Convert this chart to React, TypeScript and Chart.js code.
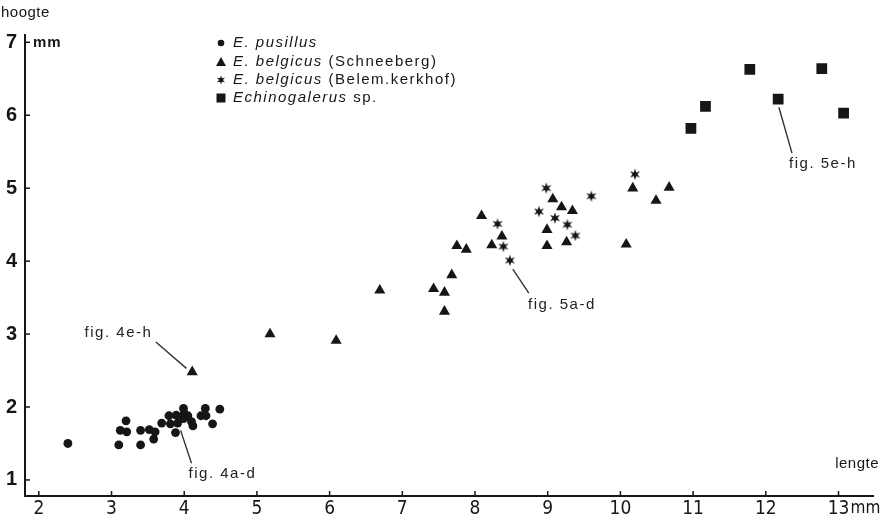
import React, { useEffect, useRef } from 'react';
import { Chart, registerables } from 'chart.js';

Chart.register(...registerables);

// ---- data (lengte / hoogte in mm) ----
const pusillusX = [2.4, 3.1, 3.4, 3.2, 3.12, 3.21, 3.4, 3.52, 3.6, 3.58, 3.69, 3.79, 3.81, 3.89, 3.91, 3.88, 3.99, 4.0, 3.99, 4.05, 4.1, 4.12, 4.23, 4.3, 4.29, 4.39, 4.49];
const pusillusY = [1.5, 1.48, 1.48, 1.81, 1.68, 1.66, 1.68, 1.69, 1.66, 1.56, 1.78, 1.88, 1.77, 1.89, 1.78, 1.65, 1.98, 1.91, 1.84, 1.88, 1.8, 1.74, 1.88, 1.88, 1.98, 1.77, 1.97];

const schneebergX = [4.11, 5.18, 6.09, 6.69, 7.43, 7.58, 7.58, 7.68, 7.75, 7.88, 8.09, 8.23, 8.37, 9.07, 9.19, 9.34, 8.99, 8.99, 9.26, 10.08, 10.17, 10.49, 10.67];
const schneebergY = [2.48, 3.0, 2.91, 3.6, 3.62, 3.57, 3.31, 3.81, 4.21, 4.16, 4.62, 4.22, 4.34, 4.85, 4.74, 4.69, 4.43, 4.21, 4.26, 4.23, 5.0, 4.83, 5.01];

const kerkhofX = [8.31, 8.39, 8.48, 8.98, 8.88, 9.1, 9.27, 9.38, 9.6, 10.2];
const kerkhofY = [4.51, 4.2, 4.01, 5.0, 4.68, 4.59, 4.5, 4.35, 4.89, 5.19];

const echinoX = [10.97, 11.17, 11.78, 12.17, 12.77, 13.07];
const echinoY = [5.82, 6.12, 6.63, 6.22, 6.64, 6.03];

const xTickValues = [2, 3, 4, 5, 6, 7, 8, 9, 10, 11, 12, 13];
const yTickValues = [1, 2, 3, 4, 5, 6, 7];

const legendItalic = ['E. pusillus', 'E. belgicus', 'E. belgicus', 'Echinogalerus'];
const legendPlain = ['', ' (Schneeberg)', ' (Belem.kerkhof)', ' sp.'];

// annotation labels: text anchor and leader line ends (data units)
const annoText = ['fig. 4e-h', 'fig. 4a-d', 'fig. 5a-d', 'fig. 5e-h'];
const annoTextX = [2.63, 4.06, 8.73, 12.32];
const annoTextY = [3.01, 1.08, 3.4, 5.33];
const annoLineX1 = [3.61, 3.95, 8.52, 12.18];
const annoLineY1 = [2.89, 1.68, 3.89, 6.11];
const annoLineX2 = [4.03, 4.1, 8.74, 12.36];
const annoLineY2 = [2.53, 1.23, 3.56, 5.48];

const INK = '#161616';
const SANS = '"Liberation Sans", Arial, Helvetica, sans-serif';
const NARROW = '"Liberation Sans Narrow", "DejaVu Sans Condensed", "Liberation Sans", sans-serif';

function makeStar(r: number, color: string) {
  const size = Math.ceil(r * 2 + 2);
  const c = document.createElement('canvas');
  c.width = size;
  c.height = size;
  const g = c.getContext('2d')!;
  g.fillStyle = color;
  g.beginPath();
  const cx = size / 2, cy = size / 2;
  for (let i = 0; i < 12; i++) {
    const a = -Math.PI / 2 + (i * Math.PI) / 6;
    const rr = i % 2 === 0 ? r : r * 0.42;
    g.lineTo(cx + rr * Math.cos(a), cy + rr * Math.sin(a));
  }
  g.closePath();
  g.fill();
  return c;
}

const zip = (xs: number[], ys: number[]) => xs.map((x, i) => ({ x, y: ys[i] }));

export default function App() {
  const ref = useRef<HTMLCanvasElement | null>(null);

  useEffect(() => {
    document.body.style.margin = '0';
    const canvas = ref.current;
    if (!canvas) return;

    const star = makeStar(5.8, INK);
    const starSmall = makeStar(4.6, INK);

    const overlay = {
      id: 'overlay',
      afterDraw(chart: any) {
        const { ctx, scales } = chart;
        const xs = scales.x, ys = scales.y;
        const area = chart.chartArea;
        ctx.save();
        // inward tick marks
        ctx.strokeStyle = INK;
        ctx.lineWidth = 1.5;
        xTickValues.forEach((v) => {
          const px = xs.getPixelForValue(v);
          ctx.beginPath();
          ctx.moveTo(px, area.bottom);
          ctx.lineTo(px, area.bottom - 5);
          ctx.stroke();
        });
        yTickValues.forEach((v) => {
          const py = ys.getPixelForValue(v);
          ctx.beginPath();
          ctx.moveTo(area.left, py);
          ctx.lineTo(area.left + 5, py);
          ctx.stroke();
        });

        // axis titles / units
        ctx.fillStyle = INK;
        ctx.textBaseline = 'middle';
        (ctx as any).letterSpacing = '0.5px';
        ctx.font = `15px ${SANS}`;
        ctx.textAlign = 'left';
        ctx.fillText('hoogte', 1, 13);
        (ctx as any).letterSpacing = '1px';
        ctx.font = `bold 15px ${SANS}`;
        ctx.fillText('mm', area.left + 8, ys.getPixelForValue(7) + 1);
        (ctx as any).letterSpacing = '0.5px';
        ctx.font = `15px ${SANS}`;
        ctx.textAlign = 'right';
        ctx.fillText('lengte', 879, ys.getPixelForValue(1) - 16);
        (ctx as any).letterSpacing = '0px';
        ctx.textAlign = 'left';
        ctx.font = `17px ${NARROW}`;
        ctx.fillText('mm', xs.getPixelForValue(13) + 12, area.bottom + 13);

        // annotations
        ctx.strokeStyle = '#333';
        ctx.lineWidth = 1.4;
        annoText.forEach((t, i) => {
          ctx.beginPath();
          ctx.moveTo(xs.getPixelForValue(annoLineX1[i]), ys.getPixelForValue(annoLineY1[i]));
          ctx.lineTo(xs.getPixelForValue(annoLineX2[i]), ys.getPixelForValue(annoLineY2[i]));
          ctx.stroke();
          (ctx as any).letterSpacing = '1.5px';
          ctx.font = `15px ${SANS}`;
          ctx.fillStyle = '#222';
          ctx.textAlign = 'left';
          ctx.fillText(t, xs.getPixelForValue(annoTextX[i]), ys.getPixelForValue(annoTextY[i]));
        });

        // legend
        const lx = 221;
        const rows = [43, 62, 80, 98];
        rows.forEach((ry, i) => {
          ctx.fillStyle = INK;
          if (i === 0) {
            ctx.beginPath();
            ctx.arc(lx, ry, 3.3, 0, Math.PI * 2);
            ctx.fill();
          } else if (i === 1) {
            ctx.beginPath();
            ctx.moveTo(lx, ry - 5);
            ctx.lineTo(lx + 5, ry + 4);
            ctx.lineTo(lx - 5, ry + 4);
            ctx.closePath();
            ctx.fill();
          } else if (i === 2) {
            ctx.drawImage(starSmall, lx - starSmall.width / 2, ry - starSmall.height / 2);
          } else {
            ctx.fillRect(lx - 4.5, ry - 4.5, 9, 9);
          }
          (ctx as any).letterSpacing = '1.5px';
          ctx.textAlign = 'left';
          ctx.font = `italic 15px ${SANS}`;
          ctx.fillText(legendItalic[i], 233, ry);
          const w = ctx.measureText(legendItalic[i]).width;
          ctx.font = `15px ${SANS}`;
          ctx.fillText(legendPlain[i], 233 + w, ry);
        });
        ctx.restore();
      },
    };

    const chart = new Chart(canvas, {
      type: 'scatter',
      data: {
        datasets: [
          {
            label: 'E. pusillus',
            data: zip(pusillusX, pusillusY),
            pointStyle: 'circle',
            pointRadius: 4.4,
            backgroundColor: INK,
            borderColor: INK,
            borderWidth: 0,
          },
          {
            label: 'E. belgicus (Schneeberg)',
            data: zip(schneebergX, schneebergY),
            pointStyle: 'triangle',
            pointRadius: 6.4,
            backgroundColor: INK,
            borderColor: INK,
            borderWidth: 0,
          },
          {
            label: 'E. belgicus (Belem.kerkhof)',
            data: zip(kerkhofX, kerkhofY),
            pointStyle: star as any,
            pointRadius: 5.8,
            backgroundColor: INK,
            borderColor: INK,
          },
          {
            label: 'Echinogalerus sp.',
            data: zip(echinoX, echinoY),
            pointStyle: 'rect',
            pointRadius: 7.6,
            backgroundColor: INK,
            borderColor: INK,
            borderWidth: 0,
          },
        ],
      },
      options: {
        animation: false,
        responsive: true,
        maintainAspectRatio: false,
        layout: { padding: { left: 0, right: 6, top: 35, bottom: 0 } },
        plugins: {
          legend: { display: false },
          tooltip: { enabled: false },
          title: { display: false },
        },
        scales: {
          x: {
            type: 'linear',
            min: 1.81,
            max: 13.48,
            afterBuildTicks: (scale: any) => {
              scale.ticks = xTickValues.map((v) => ({ value: v }));
            },
            afterFit: (scale: any) => {
              scale.height = 27;
            },
            grid: { display: false, drawTicks: false },
            border: { display: true, color: INK, width: 2 },
            ticks: {
              padding: 2,
              color: INK,
              font: { family: NARROW, size: 19 },
              callback: (v: any) => String(v),
              maxRotation: 0,
            },
          },
          y: {
            type: 'linear',
            min: 0.78,
            max: 7.1,
            afterBuildTicks: (scale: any) => {
              scale.ticks = yTickValues.map((v) => ({ value: v }));
            },
            afterFit: (scale: any) => {
              scale.width = 25;
            },
            grid: { display: false, drawTicks: false },
            border: { display: true, color: INK, width: 2 },
            ticks: {
              padding: 8,
              color: INK,
              font: { family: SANS, size: 20, weight: 'bold' },
              callback: (v: any) => String(v),
            },
          },
        },
      },
      plugins: [overlay],
    });

    return () => chart.destroy();
  }, []);

  return (
    <div style={{ position: 'relative', width: 881, height: 523, background: '#fff' }}>
      <canvas ref={ref} />
    </div>
  );
}
